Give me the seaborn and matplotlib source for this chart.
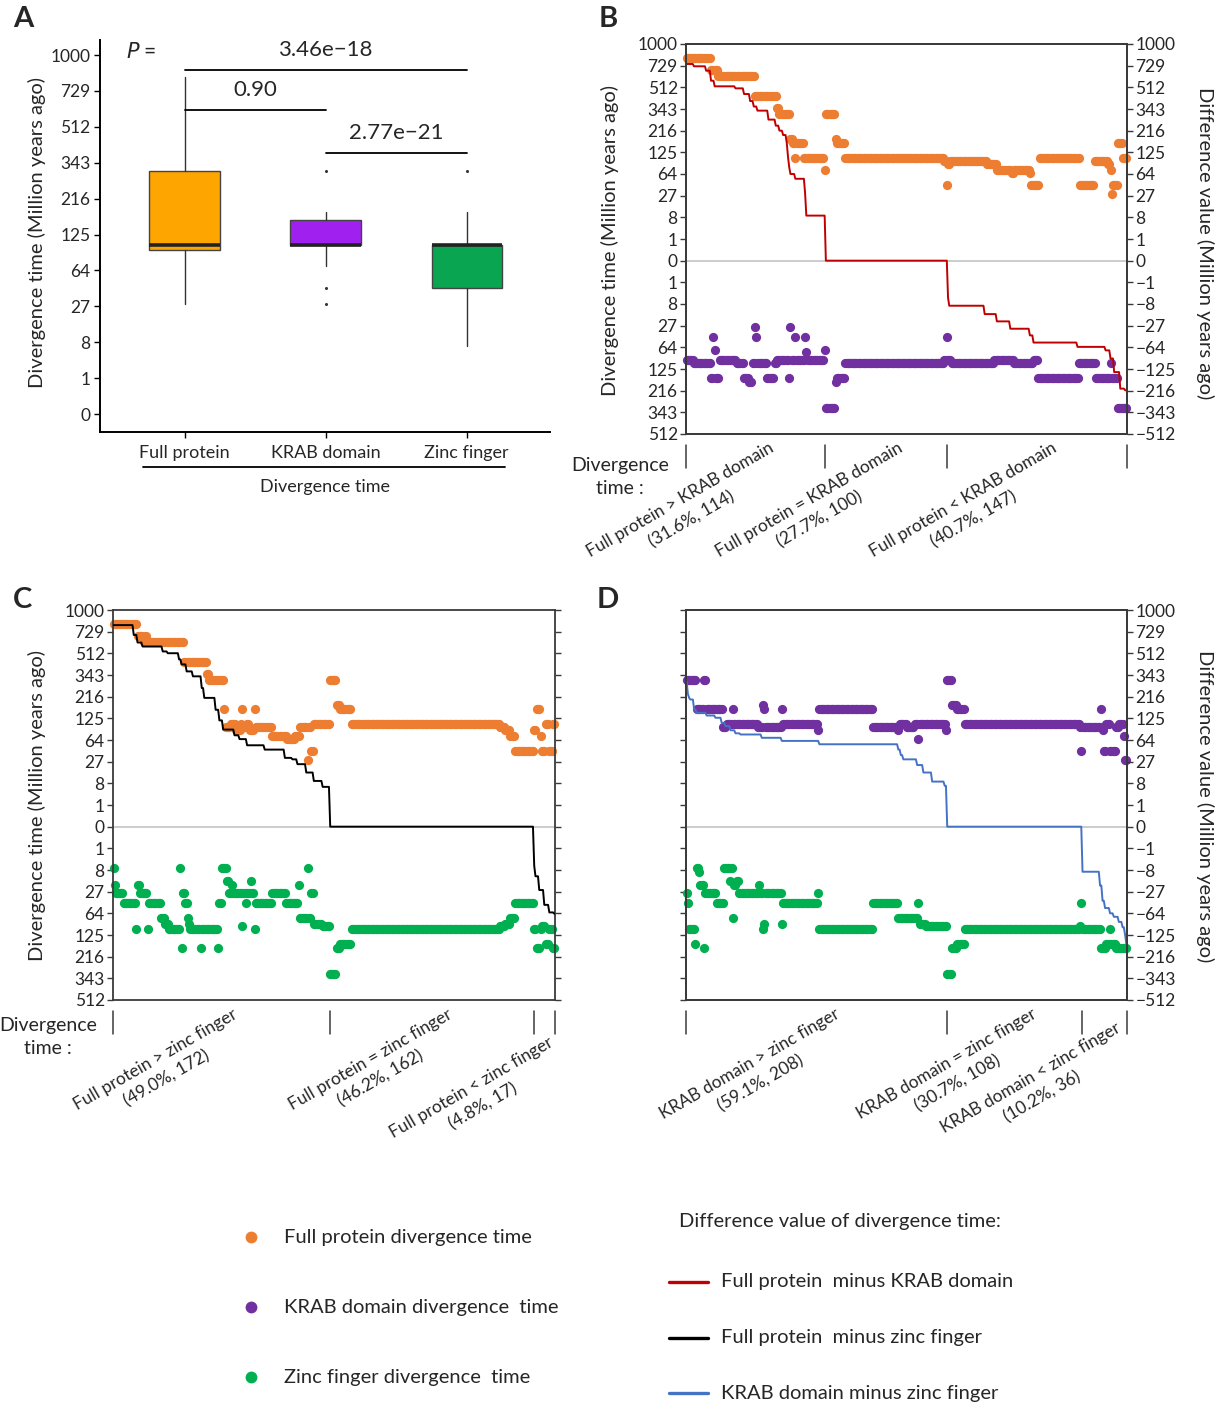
import numpy as np
import matplotlib
matplotlib.use('Agg')
import matplotlib.pyplot as plt
import matplotlib.transforms as mtransforms
from matplotlib.lines import Line2D
import seaborn as sns

sns.set_theme(style='white')
plt.rcParams['font.family'] = ['Lato', 'DejaVu Sans']
plt.rcParams['axes.unicode_minus'] = True

# ------------------------------------------------------------------ data
# Panel A: box statistics of divergence time (Million years ago)
box_groups = ['Full protein', 'KRAB domain', 'Zinc finger']
box_whislo = [29, 70, 6.7]
box_q1 = [96, 105, 43]
box_med = [105, 105, 105]
box_q3 = [312, 159, 105]
box_whishi = [824, 177, 177]
box_fliers = [[], [312, 43, 29], [312]]
p_labels = ['3.46e\u221218', '0.90', '2.77e\u221221']
a_ticks = [0, 1, 8, 27, 64, 125, 216, 343, 512, 729, 1000]
diff_ticks = [1000, 729, 512, 343, 216, 125, 64, 27, 8, 1, 0,
              -1, -8, -27, -64, -125, -216, -343, -512]

# Panel B (genes sorted by full protein minus KRAB domain), run-length encoded
B_groups = [114, 100, 147]
B_group_labels = ['Full protein > KRAB domain\n(31.6%, 114)',
                  'Full protein = KRAB domain\n(27.7%, 100)',
                  'Full protein < KRAB domain\n(40.7%, 147)']
B_eq_vals = [312, 177, 159, 105, 96, 43]
B_eq_cnts = [8, 1, 7, 81, 2, 1]
B_full_vals = ([824, 684, 615, 435, 352, 312, 177, 159, 105, 159, 105, 74]
               + B_eq_vals
               + [90, 96, 90, 74, 66, 74, 66, 43, 105, 43, 96, 90, 74, 29, 43, 159, 105])
B_full_cnts = ([20, 6, 30, 18, 2, 9, 2, 2, 1, 6, 17, 1]
               + B_eq_cnts
               + [2, 30, 8, 12, 2, 13, 1, 7, 33, 12, 11, 2, 1, 1, 4, 4, 4])
B_krab_vals = ([96, 105, 159, 43, 70, 159, 96, 105, 159, 177, 105, 29, 43, 105, 159, 105,
                96, 159, 29, 96, 43, 96, 43, 74, 96, 70]
               + B_eq_vals
               + [96, 105, 96, 105, 96, 159, 105, 159, 105, 159, 312])
B_krab_cnts = ([6, 14, 2, 1, 1, 3, 14, 6, 4, 3, 2, 1, 1, 8, 6, 2,
                10, 1, 1, 3, 1, 7, 1, 1, 14, 1]
               + B_eq_cnts
               + [3, 35, 16, 16, 4, 33, 14, 12, 1, 5, 8])
B_diff_vals = [748, 722, 674, 573, 521, 503, 455, 400, 360, 332, 276, 242, 216, 195, 160, 110,
               80, 64, 54, 30, 9, 0, -5, -9, -15, -22, -31, -41, -54, -63, -71, -92, -136,
               -206, -214]
B_diff_cnts = [6, 10, 4, 3, 17, 7, 5, 3, 3, 9, 6, 3, 3, 3, 1, 1,
               1, 4, 8, 1, 16, 100, 1, 29, 10, 11, 16, 3, 36, 23, 4, 3, 5,
               4, 2]

# Panel C (full protein minus zinc finger)
C_groups = [172, 162, 17]
C_group_labels = ['Full protein > zinc finger\n(49.0%, 172)',
                  'Full protein = zinc finger\n(46.2%, 162)',
                  'Full protein < zinc finger\n(4.8%, 17)']
C_eq_vals = [312, 177, 159, 105, 96, 90, 74, 43]
C_eq_cnts = [5, 3, 9, 118, 4, 4, 4, 15]
C_full_vals = ([824, 684, 615, 684, 615, 435, 352, 312, 159, 96, 105, 90, 105, 159, 96, 105,
                90, 159, 96, 74, 66, 74, 96, 29, 96, 43, 105]
               + C_eq_vals
               + [90, 159, 74, 43, 105, 43, 105])
C_full_cnts = ([19, 5, 2, 1, 29, 18, 2, 12, 1, 4, 4, 4, 1, 1, 3, 2,
                4, 1, 13, 12, 6, 4, 6, 1, 2, 2, 13]
               + C_eq_cnts
               + [2, 3, 1, 3, 3, 3, 2])
C_zinc_vals = ([6.7, 20, 29, 43, 105, 20, 29, 105, 43, 74, 90, 105, 6.7, 177, 29, 43, 74, 90,
                105, 177, 105, 177, 43, 6.7, 15.8, 29, 20, 29, 96, 29, 43, 29, 15.8, 29, 105,
                43, 29, 43, 20, 74, 6.7, 74, 29, 90, 96]
               + C_eq_vals
               + [105, 177, 105, 96, 159, 105, 177])
C_zinc_cnts = ([1, 1, 6, 10, 1, 2, 6, 1, 10, 3, 3, 9, 1, 1, 2, 2, 1, 1,
                8, 1, 13, 1, 2, 4, 2, 2, 1, 7, 1, 2, 1, 3, 1, 2, 1,
                13, 11, 10, 1, 6, 1, 2, 2, 7, 6]
               + C_eq_cnts
               + [2, 3, 1, 3, 3, 3, 2])
C_diff_vals = [805, 693, 614, 575, 529, 513, 460, 420, 368, 334, 262, 210, 157, 118, 90, 75,
               66, 53, 45, 32, 30, 24, 15.6, 9.4, 6.2, 0, -5.9, -12, -25, -47, -62, -65]
C_diff_cnts = [16, 3, 4, 16, 4, 9, 2, 4, 5, 7, 2, 9, 3, 3, 9, 4,
               6, 14, 16, 6, 4, 7, 6, 7, 6, 162, 1, 3, 4, 4, 4, 1]

# Panel D (KRAB domain minus zinc finger)
D_groups = [208, 108, 36]
D_group_labels = ['KRAB domain > zinc finger\n(59.1%, 208)',
                  'KRAB domain = zinc finger\n(30.7%, 108)',
                  'KRAB domain < zinc finger\n(10.2%, 36)']
D_eq_vals = [312, 177, 159, 105, 96, 43]
D_eq_cnts = [4, 4, 6, 92, 1, 1]
D_krab_vals = ([312, 159, 312, 159, 96, 105, 159, 105, 96, 177, 159, 96, 159, 105, 90, 159,
                96, 90, 105, 96, 105, 66, 105, 90]
               + D_eq_vals
               + [96, 159, 90, 43, 105, 43, 96, 105, 74, 29])
D_krab_cnts = ([8, 6, 2, 13, 3, 5, 1, 19, 4, 1, 1, 13, 1, 28, 1, 43,
                20, 1, 6, 6, 3, 1, 21, 1]
               + D_eq_cnts
               + [15, 1, 1, 2, 3, 5, 2, 4, 1, 2])
D_zinc_vals = ([29, 43, 105, 159, 6.7, 9, 20, 177, 29, 43, 6.7, 15.8, 6.7, 74, 20, 15.8, 29,
                20, 29, 105, 90, 29, 90, 43, 29, 105, 43, 74, 43, 90, 96]
               + D_eq_vals
               + [105, 177, 159, 105, 159, 177])
D_zinc_cnts = ([1, 1, 5, 1, 2, 1, 3, 1, 9, 6, 5, 1, 1, 1, 2, 2, 16,
                1, 2, 1, 1, 13, 1, 28, 1, 43, 20, 16, 1, 5, 17]
               + D_eq_cnts
               + [15, 4, 3, 1, 4, 9])
D_diff_vals = [301, 230, 210, 202, 158, 145, 135, 127, 110, 100, 88, 80, 77, 69, 62, 55, 45, 36,
               30, 23, 15.6, 9, 6.7, 0, -9, -20, -40, -53, -64, -72, -85, -100, -125, -160]
D_diff_cnts = [1, 1, 1, 3, 2, 8, 7, 5, 3, 4, 4, 4, 17, 16, 30, 63, 2, 2,
               11, 5, 7, 10, 2, 108, 14, 2, 2, 4, 3, 4, 3, 2, 1, 1]

# ------------------------------------------------------------------ style
C_ORANGE, C_PURPLE, C_GREEN = '#ED7D31', '#7030A0', '#00B050'
C_RED, C_BLACK, C_BLUE = '#C00000', '#000000', '#4472C4'
BOX_COLORS = ['#FFA500', '#A020F0', '#0AA550']
SPINE = '#3a3a3a'
W, H = 1229, 1408
TICK_FS = 12.5
LABEL_FS = 14.5


def fx(px):
    return px / W


def fy(py):
    return 1 - py / H


def cube(y):
    return np.power(y, 3)


def expand(vals, cnts):
    return np.repeat(np.asarray(vals, dtype=float), cnts)


fig = plt.figure(figsize=(W / 100, H / 100), dpi=100)

# ------------------------------------------------------------------ panel A
axA = fig.add_axes([fx(100), fy(432), fx(550) - fx(100), fy(40) - fy(432)])
stats = []
for i, g in enumerate(box_groups):
    stats.append(dict(label=g, whislo=box_whislo[i], q1=box_q1[i], med=box_med[i],
                      q3=box_q3[i], whishi=box_whishi[i], fliers=box_fliers[i]))
bp = axA.bxp(stats, positions=[0, 1, 2], widths=0.5, patch_artist=True, showcaps=False,
             flierprops=dict(marker='o', markersize=2.2, markerfacecolor='#333333',
                             markeredgecolor='none'),
             medianprops=dict(color='#222222', linewidth=2.6),
             whiskerprops=dict(color='#333333', linewidth=1.0),
             boxprops=dict(edgecolor='#444444', linewidth=1.0))
for patch, col in zip(bp['boxes'], BOX_COLORS):
    patch.set_facecolor(col)
axA.set_yscale('function', functions=(np.cbrt, cube))
axA.set_ylim(-0.125, 1131)
axA.set_xlim(-0.6, 2.59)
axA.set_yticks(a_ticks)
axA.set_yticklabels([str(t) for t in a_ticks])
axA.set_xticks([0, 1, 2])
axA.set_xticklabels(box_groups)
for s in ['top', 'right']:
    axA.spines[s].set_visible(False)
for s in ['left', 'bottom']:
    axA.spines[s].set_color('black')
    axA.spines[s].set_linewidth(1.4)
axA.tick_params(axis='both', direction='out', length=4, width=1, color='black',
                left=True, bottom=True, labelsize=TICK_FS, pad=3)
axA.tick_params(axis='x', labelsize=13, pad=5)
transA = mtransforms.blended_transform_factory(axA.transData, axA.transAxes)
sig = [((0, 2), 0.923, 0.974, p_labels[0]),
       ((0, 1), 0.821, 0.872, p_labels[1]),
       ((1, 2), 0.712, 0.763, p_labels[2])]
for (x0, x1), yl, yt, lab in sig:
    axA.plot([x0, x1], [yl, yl], transform=transA, color='black', lw=1.3, clip_on=False)
    axA.text((x0 + x1) / 2, yt, lab, transform=transA, ha='center', va='center', fontsize=16)
axA.text(-0.31, 0.969, '$P$ =', transform=transA, ha='center', va='center', fontsize=15)
axA.set_xlim(-0.6, 2.59)
fig.text(fx(37), fy(232), 'Divergence time (Million years ago)', rotation=90,
         ha='center', va='center', fontsize=LABEL_FS)
fig.add_artist(Line2D([fx(143), fx(505)], [fy(467), fy(467)], color='black', lw=1.3))
fig.text(fx(325), fy(487), 'Divergence time', ha='center', va='center', fontsize=13)


# ------------------------------------------------------------------ panels B-D
def draw_panel(rect, top_v, top_c, bot_v, bot_c, diff_v, diff_c, col_top, col_bot, col_line,
               groups, group_labels, offsets, left_labels, right_labels):
    ax = fig.add_axes(rect)
    top = expand(top_v, top_c)
    bot = -expand(bot_v, bot_c)
    diff = expand(diff_v, diff_c)
    n = len(top)
    idx = np.arange(n)
    ax.axhline(0, color='#C8C8C8', lw=1.3, zorder=1)
    sns.scatterplot(x=idx, y=top, color=col_top, s=44, linewidth=0, ax=ax,
                    legend=False, zorder=2, clip_on=False)
    sns.scatterplot(x=idx, y=bot, color=col_bot, s=44, linewidth=0, ax=ax,
                    legend=False, zorder=2, clip_on=False)
    sns.lineplot(x=idx, y=diff, color=col_line, lw=1.4, ax=ax, legend=False,
                 errorbar=None, zorder=3)
    ax.set_yscale('function', functions=(np.cbrt, cube))
    ax.set_ylim(-512, 1000)
    ax.set_yticks(diff_ticks)
    ax.set_yticklabels([str(abs(t)) for t in diff_ticks])
    ax.set_xticks([])
    ax.set_xlabel('')
    ax.set_ylabel('')
    for s in ax.spines.values():
        s.set_visible(True)
        s.set_color(SPINE)
        s.set_linewidth(1.3)
    ax.tick_params(axis='y', direction='out', length=4, width=1, color=SPINE,
                   left=True, right=True, labelleft=left_labels, labelright=False,
                   labelsize=TICK_FS, pad=2)
    trans = mtransforms.blended_transform_factory(ax.transData, ax.transAxes)
    bounds = np.concatenate([[0], np.cumsum(groups)]) - 0.5
    for b in bounds:
        ax.plot([b, b], [-0.028, -0.088], transform=trans, color=SPINE, lw=1.1, clip_on=False)
    centers = (bounds[:-1] + bounds[1:]) / 2
    for c, lab, (dx, dy) in zip(centers, group_labels, offsets):
        ax.annotate(lab, xy=(c, 0), xycoords=trans, xytext=(dx, dy),
                    textcoords='offset pixels', rotation=30, rotation_mode='anchor',
                    ha='right', va='top', multialignment='center', fontsize=12.5,
                    linespacing=1.45)
    ax.set_xlim(-0.5, n - 0.5)
    if right_labels:
        ax2 = ax.twinx()
        ax2.set_yscale('function', functions=(np.cbrt, cube))
        ax2.set_ylim(-512, 1000)
        ax2.set_yticks(diff_ticks)
        ax2.set_yticklabels([str(t).replace('-', '\u2212') for t in diff_ticks])
        ax2.tick_params(axis='y', direction='out', length=4, width=1, color=SPINE,
                        labelsize=TICK_FS, pad=2)
        for s in ax2.spines.values():
            s.set_color(SPINE)
            s.set_linewidth(1.3)
        ax.tick_params(axis='y', right=False)
    return ax


rB = [fx(686), fy(434), fx(1127) - fx(686), fy(44) - fy(434)]
rC = [fx(113), fy(1000), fx(555) - fx(113), fy(610) - fy(1000)]
rD = [fx(686), fy(1000), fx(1127) - fx(686), fy(610) - fy(1000)]

draw_panel(rB, B_full_vals, B_full_cnts, B_krab_vals, B_krab_cnts, B_diff_vals, B_diff_cnts,
           C_ORANGE, C_PURPLE, C_RED, B_groups, B_group_labels,
           [(13, -6), (11, -6), (14, -6)], True, True)
draw_panel(rC, C_full_vals, C_full_cnts, C_zinc_vals, C_zinc_cnts, C_diff_vals, C_diff_cnts,
           C_ORANGE, C_GREEN, C_BLACK, C_groups, C_group_labels,
           [(11, -6), (15, -6), (4, -34)], True, False)
draw_panel(rD, D_krab_vals, D_krab_cnts, D_zinc_vals, D_zinc_cnts, D_diff_vals, D_diff_cnts,
           C_PURPLE, C_GREEN, C_BLUE, D_groups, D_group_labels,
           [(18, -6), (17, -6), (11, -20)], False, True)

# axis titles for B-D
fig.text(fx(610), fy(241), 'Divergence time (Million years ago)', rotation=90,
         ha='center', va='center', fontsize=LABEL_FS)
fig.text(fx(1205), fy(243), 'Difference value (Million years ago)', rotation=270,
         ha='center', va='center', fontsize=LABEL_FS)
fig.text(fx(37), fy(806), 'Divergence time (Million years ago)', rotation=90,
         ha='center', va='center', fontsize=LABEL_FS)
fig.text(fx(1205), fy(806), 'Difference value (Million years ago)', rotation=270,
         ha='center', va='center', fontsize=LABEL_FS)
fig.text(fx(620), fy(477), 'Divergence\ntime :', ha='center', va='center',
         fontsize=14, linespacing=1.45)
fig.text(fx(48), fy(1037), 'Divergence\ntime :', ha='center', va='center',
         fontsize=14, linespacing=1.45)

# panel letters
for letter, (px, py) in zip('ABCD', [(23, 19), (608, 19), (23, 600), (608, 600)]):
    fig.text(fx(px), fy(py), letter, ha='center', va='center', fontsize=21, fontweight='bold')

# ------------------------------------------------------------------ legend
dot_items = [('Full protein divergence time', C_ORANGE, 1237),
             ('KRAB domain divergence  time', C_PURPLE, 1307),
             ('Zinc finger divergence  time', C_GREEN, 1377)]
for lab, col, py in dot_items:
    fig.add_artist(Line2D([fx(251)], [fy(py)], marker='o', markersize=8.5, color=col,
                          markeredgewidth=0, linestyle='none'))
    fig.text(fx(284), fy(py), lab, ha='left', va='center', fontsize=14.5)
fig.text(fx(679), fy(1221), 'Difference value of divergence time:', ha='left', va='center',
         fontsize=14.5)
line_items = [('Full protein  minus KRAB domain', C_RED, 1282),
              ('Full protein  minus zinc finger', C_BLACK, 1338),
              ('KRAB domain minus zinc finger', C_BLUE, 1393)]
for lab, col, py in line_items:
    fig.add_artist(Line2D([fx(669), fx(708)], [fy(py), fy(py)], color=col, lw=2.4))
    fig.text(fx(721), fy(py), lab, ha='left', va='center', fontsize=14.5)

fig.savefig('out.png', dpi=100)
